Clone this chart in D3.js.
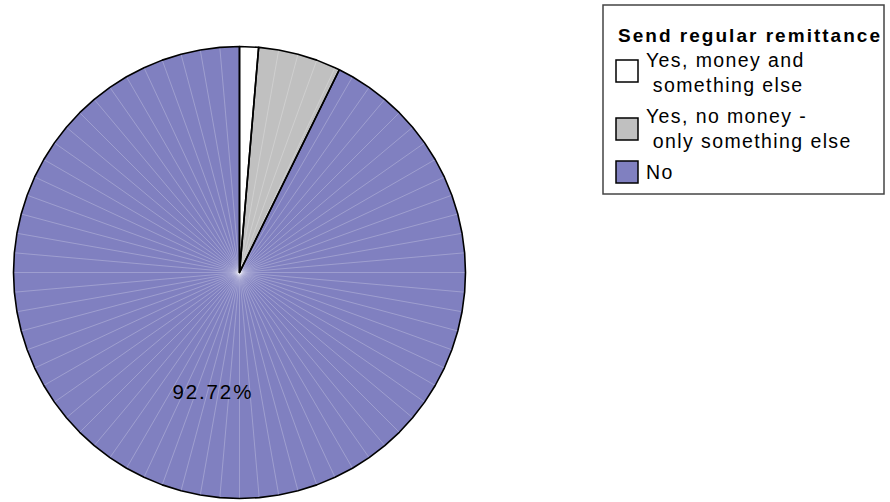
<!DOCTYPE html>
<html>
<head>
<meta charset="utf-8">
<script src="https://cdn.jsdelivr.net/npm/d3@7/dist/d3.min.js"></script>
<style>
  html, body { margin: 0; padding: 0; background: #fff; }
  svg { display: block; font-family: "Liberation Sans", Arial, sans-serif; }
</style>
</head>
<body>
<svg id="chart" width="890" height="502"></svg>
<script>
// Survey answers: does the respondent send regular remittances?
const legendTitle = "Send regular remittance";
const categories = ["Yes, money and something else", "Yes, no money - only something else", "No"];
const legendLines = [["Yes, money and", " something else"], ["Yes, no money -", " only something else"], ["No"]];
const shares = [1.35, 5.93, 92.72];
const sliceColors = ["#FFFFFF", "#C0C0C0", "#8080C0"];
const labelled = [false, false, true];

const svg = d3.select("#chart");
const cx = 239.5, cy = 272.5, radius = 226;
const facetStep = 5 * Math.PI / 180; // the disc is drawn as a 72-sided polygon

const data = categories.map((c, i) => ({ category: c, value: shares[i], color: sliceColors[i], label: labelled[i] }));
const pie = d3.pie().value(d => d.value).sort(null).startAngle(0).endAngle(2 * Math.PI);
const arcs = pie(data);

const g = svg.append("g").attr("transform", `translate(${cx},${cy})`);

// Faceted slice outline: vertices at every 5° inside the slice plus the slice edges
function facetPath(a) {
  const pts = [[0, 0], d3.pointRadial(a.startAngle, radius)];
  let k = Math.floor(a.startAngle / facetStep) + 1;
  for (; k * facetStep < a.endAngle - 1e-6; k++) pts.push(d3.pointRadial(k * facetStep, radius));
  pts.push(d3.pointRadial(a.endAngle, radius));
  return "M" + pts.map(p => p[0].toFixed(2) + "," + p[1].toFixed(2)).join("L") + "Z";
}

g.selectAll("path.slice")
  .data(arcs)
  .join("path")
  .attr("class", "slice")
  .attr("d", facetPath)
  .attr("fill", d => d.data.color);

// light seams between the polygon facets
const seamAngles = d3.range(0, 72).map(k => k * facetStep)
  .filter(t => arcs.every(a => Math.abs(t - a.startAngle) > 0.01));
g.selectAll("line.seam")
  .data(seamAngles)
  .join("line")
  .attr("class", "seam")
  .attr("x1", 0).attr("y1", 0)
  .attr("x2", t => d3.pointRadial(t, radius)[0])
  .attr("y2", t => d3.pointRadial(t, radius)[1])
  .attr("stroke", t => arcs.find(a => t >= a.startAngle && t < a.endAngle).data.color === "#FFFFFF" ? "none" : "rgba(255,255,255,0.3)")
  .attr("stroke-width", 0.8);

// slice borders on top
g.selectAll("path.border")
  .data(arcs)
  .join("path")
  .attr("class", "border")
  .attr("d", facetPath)
  .attr("fill", "none")
  .attr("stroke", "#000")
  .attr("stroke-width", 1.6)
  .attr("stroke-linejoin", "round");

// percentage label on the large slice
const labelArc = d3.arc().innerRadius(radius * 0.54).outerRadius(radius * 0.54);
g.selectAll("text.pct")
  .data(arcs.filter(a => a.data.label))
  .join("text")
  .attr("class", "pct")
  .attr("x", d => labelArc.centroid(d)[0] + 1)
  .attr("y", d => labelArc.centroid(d)[1] + 7.5)
  .attr("text-anchor", "middle")
  .attr("font-size", 20.5)
  .attr("letter-spacing", 1.9)
  .attr("fill", "#000")
  .text(d => d.data.value.toFixed(2) + "%");

// legend
const lg = svg.append("g");
lg.append("rect")
  .attr("x", 603).attr("y", 5).attr("width", 281).attr("height", 189)
  .attr("fill", "#fff").attr("stroke", "#444").attr("stroke-width", 1.5);
lg.append("text")
  .attr("x", 618).attr("y", 42)
  .attr("font-size", 19).attr("font-weight", "bold")
  .attr("textLength", 262).attr("lengthAdjust", "spacing")
  .text(legendTitle);

const itemSwatchY = [60, 118, 161];
const itemTextY = [[67, 92], [123, 148], [179]];
const items = lg.selectAll("g.item").data(data).join("g").attr("class", "item");
items.append("rect")
  .attr("x", 616).attr("y", (d, i) => itemSwatchY[i])
  .attr("width", 22).attr("height", 22)
  .attr("fill", d => d.color).attr("stroke", "#000").attr("stroke-width", 1.5);
items.each(function (d, i) {
  d3.select(this).selectAll("text")
    .data(legendLines[i])
    .join("text")
    .attr("x", 646)
    .attr("y", (t, j) => itemTextY[i][j])
    .attr("font-size", 19.5)
    .attr("letter-spacing", 1.4)
    .attr("xml:space", "preserve")
    .style("white-space", "pre")
    .text(t => t);
});
</script>
</body>
</html>
